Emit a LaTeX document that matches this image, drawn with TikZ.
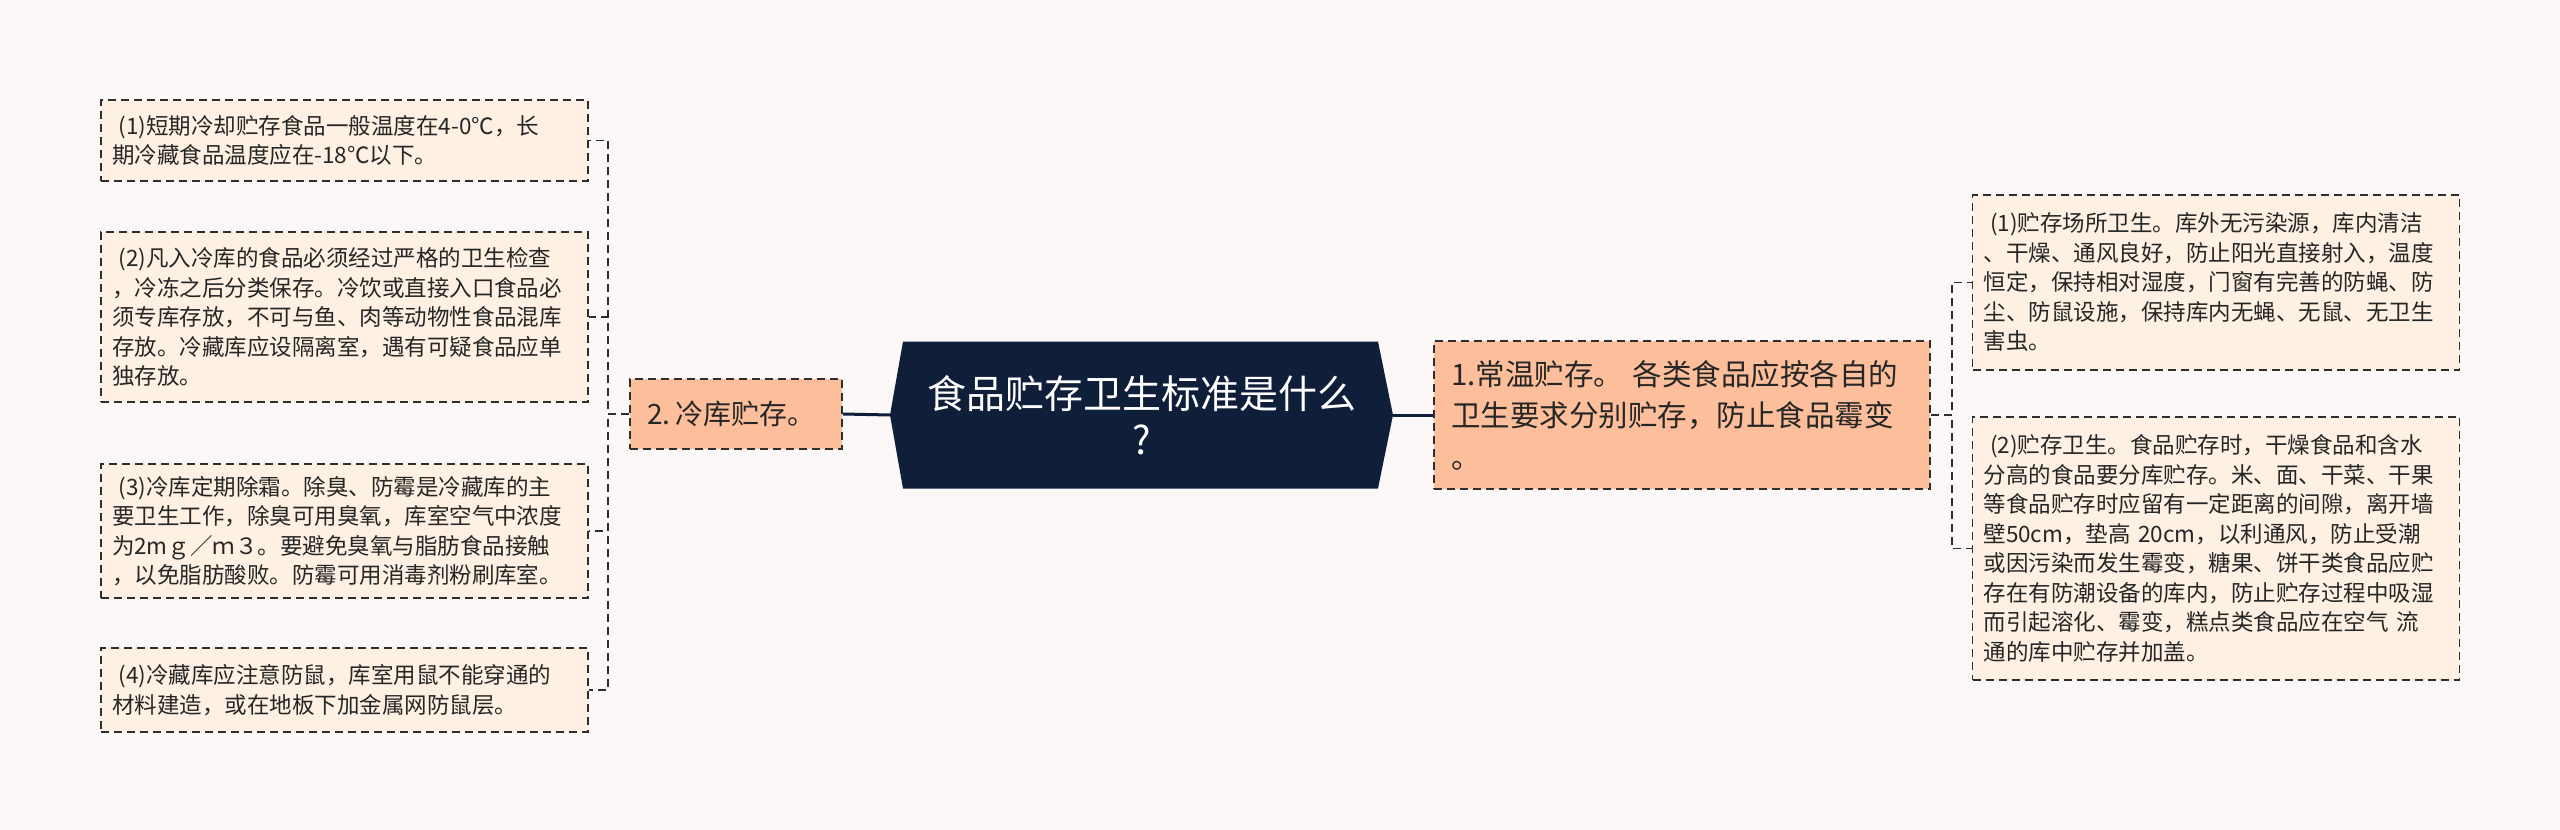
\documentclass[tikz,border=0pt]{standalone}
\usepackage{fontspec}
\setmainfont{Noto Sans CJK SC}
\definecolor{bgpage}{HTML}{FCF8F7}
\definecolor{leaffill}{HTML}{FEF0E2}
\definecolor{branchfill}{HTML}{FDBF9B}
\definecolor{rootfill}{HTML}{0F1F3A}
\definecolor{edge}{HTML}{2E2E2E}
\definecolor{ink}{HTML}{262626}
\tikzset{
  leaf/.style={draw=edge,fill=leaffill,line width=1.8pt,dash pattern=on 8pt off 5pt,
    text width=465pt,inner xsep=11pt,inner ysep=0pt,align=left,text=ink,
    font=\fontsize{22.5}{29.5}\selectfont},
  branch/.style={draw=edge,fill=branchfill,line width=1.8pt,dash pattern=on 8pt off 5pt,
    inner xsep=17pt,inner ysep=0pt,align=left,text=ink,
    font=\fontsize{28}{41}\selectfont},
  root/.style={minimum width=503pt,minimum height=147pt,inner sep=0pt,text width=470pt,
    align=center,text=white,font=\fontsize{39}{46}\selectfont,
    path picture={\fill[rootfill] (path picture bounding box.west)
      -- ([xshift=13pt]path picture bounding box.north west)
      -- ([xshift=-15pt]path picture bounding box.north east)
      -- (path picture bounding box.east)
      -- ([xshift=-15pt]path picture bounding box.south east)
      -- ([xshift=13pt]path picture bounding box.south west) -- cycle;}},
  link/.style={draw=edge,line width=1.8pt,dash pattern=on 8pt off 5pt},
  trunk/.style={draw=rootfill,line width=3pt}
}

\begin{document}
\begin{tikzpicture}[x=1pt,y=-1pt]
  \fill[bgpage] (0,0) rectangle (2560,830);

  \node[root] (Q) at (1141.5,415) {食品贮存卫生标准是什么\\?};
  \node[branch,text width=178pt,minimum height=70pt] (L) at (736,414) {2.\hspace{0.2em}冷库贮存。};
  \node[branch,text width=462pt,minimum height=148pt,font=\fontsize{29.5}{41.5}\selectfont] (R) at (1682,415) {1.常温贮存。 各类食品应按各自的\\卫生要求分别贮存，防止食品霉变\\。};

  \node[leaf,minimum height=81pt] (L1) at (344.5,140.5) {\hspace*{0.3em}(1)短期冷却贮存食品一般温度在4-0℃，长\\期冷藏食品温度应在-18℃以下。};
  \node[leaf,minimum height=170pt] (L2) at (344.5,317) {\hspace*{0.3em}(2)凡入冷库的食品必须经过严格的卫生检查\\，冷冻之后分类保存。冷饮或直接入口食品必\\须专库存放，不可与鱼、肉等动物性食品混库\\存放。冷藏库应设隔离室，遇有可疑食品应单\\独存放。};
  \node[leaf,minimum height=134pt] (L3) at (344.5,531) {\hspace*{0.3em}(3)冷库定期除霜。除臭、防霉是冷藏库的主\\要卫生工作，除臭可用臭氧，库室空气中浓度\\为2mｇ／ｍ３。要避免臭氧与脂肪食品接触\\，以免脂肪酸败。防霉可用消毒剂粉刷库室。};
  \node[leaf,minimum height=84pt] (L4) at (344.5,690) {\hspace*{0.3em}(4)冷藏库应注意防鼠，库室用鼠不能穿通的\\材料建造，或在地板下加金属网防鼠层。};

  \node[leaf,minimum height=175pt] (R1) at (2216,282.5) {\hspace*{0.3em}(1)贮存场所卫生。库外无污染源，库内清洁\\、干燥、通风良好，防止阳光直接射入，温度\\恒定，保持相对湿度，门窗有完善的防蝇、防\\尘、防鼠设施，保持库内无蝇、无鼠、无卫生\\害虫。};
  \node[leaf,minimum height=263pt] (R2) at (2216,548.5) {\hspace*{0.3em}(2)贮存卫生。食品贮存时，干燥食品和含水\\分高的食品要分库贮存。米、面、干菜、干果\\等食品贮存时应留有一定距离的间隙，离开墙\\壁50cm，垫高 20cm，以利通风，防止受潮\\或因污染而发生霉变，糖果、饼干类食品应贮\\存在有防潮设备的库内，防止贮存过程中吸湿\\而引起溶化、霉变，糕点类食品应在空气 流\\通的库中贮存并加盖。};

  \draw[trunk] (Q.west) -- (L.east);
  \draw[trunk] (Q.east) -- (R.west);
  \draw[link] (L.west) -- ++(-21,0) |- (L1.east);
  \draw[link] (L.west) -- ++(-21,0) |- (L2.east);
  \draw[link] (L.west) -- ++(-21,0) |- (L3.east);
  \draw[link] (L.west) -- ++(-21,0) |- (L4.east);
  \draw[link] (R.east) -- ++(21,0) |- (R1.west);
  \draw[link] (R.east) -- ++(21,0) |- (R2.west);
\end{tikzpicture}
\end{document}
